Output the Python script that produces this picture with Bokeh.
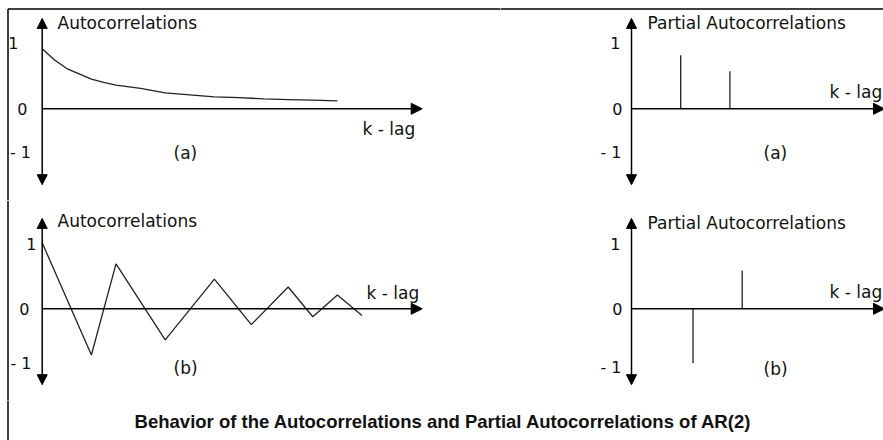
from bokeh.plotting import figure
from bokeh.layouts import column, row
from bokeh.models import Arrow, NormalHead, Range1d
from bokeh.core.properties import value
from bokeh.embed import file_html
from bokeh.resources import INLINE

# ---------------- data ----------------
acf_a_lag = [0, 1, 2, 3, 4, 5, 6, 8, 10, 12, 14, 16, 18, 20, 22, 24]
acf_a_val = [0.91, 0.74, 0.61, 0.53, 0.45, 0.40, 0.36, 0.31, 0.24, 0.21, 0.18, 0.17, 0.15, 0.14, 0.13, 0.12]

acf_b_lag = [0, 4, 6, 10, 14, 17, 20, 22, 24, 26]
acf_b_val = [1.0, -0.70, 0.68, -0.47, 0.45, -0.24, 0.33, -0.12, 0.21, -0.10]

pacf_a_lag = [4, 8]
pacf_a_val = [0.81, 0.57]

pacf_b_lag = [5, 9]
pacf_b_val = [-0.82, 0.58]

tick_labels = ["1", "0", "- 1"]
acf_title = "Autocorrelations"
pacf_title = "Partial Autocorrelations"
x_title = "k - lag"
main_title = "Behavior of the Autocorrelations and Partial Autocorrelations of AR(2)"

# ---------------- layout / style ----------------
FONT = "DejaVu Sans"
TITLE_FONT = "Liberation Sans"
FS = "17px"
TICK_FS = "16px"
SX, SY = 12.3, 66.0          # pixels per lag unit, pixels per correlation unit
Y_TOP, Y_BOT = 1.37, -1.15   # extent of the vertical arrows
INK = "#111111"
FRAME_X, FRAME_Y = 7.5, 8.5  # page position of the left / top frame lines
SPLIT = 500                  # page x where the left and right panels meet


def panel(fx, fy, w, h, ox, oy):
    xr = Range1d((fx - ox) / SX, (fx + w - ox) / SX)
    yr = Range1d((oy - (fy + h)) / SY, (oy - fy) / SY)
    p = figure(width=w, height=h, x_range=xr, y_range=yr,
               output_backend="svg", toolbar_location=None, min_border=0,
               x_axis_location=None, y_axis_location=None,
               background_fill_color="white", border_fill_color="white")
    p.outline_line_color = None
    p.grid.visible = False

    def conv(px, py):
        return (px - ox) / SX, (oy - py) / SY
    return p, conv, (fx, fy, w, h)


def add_text(p, conv, px, py, s, align="left", size=FS):
    x, y = conv(px, py)
    p.text(x=[x], y=[y], text=[s], text_align=align, text_baseline="middle",
           text_font=value(FONT), text_font_size=value(size), text_color=INK)


def add_axes(p, conv, x_tip_px):
    x_end, _ = conv(x_tip_px, 0)
    p.add_layout(Arrow(start=NormalHead(size=10, fill_color="black", line_color="black"),
                       end=NormalHead(size=10, fill_color="black", line_color="black"),
                       x_start=0, y_start=Y_BOT, x_end=0, y_end=Y_TOP,
                       line_color="black", line_width=1.5))
    p.add_layout(Arrow(end=NormalHead(size=11, fill_color="black", line_color="black"),
                       x_start=0, y_start=0, x_end=x_end, y_end=0,
                       line_color="black", line_width=1.5))


def add_ticks(p, conv, pos, aligns):
    for lab, (px, py), al in zip(tick_labels, pos, aligns):
        add_text(p, conv, px, py, lab, align=al, size=TICK_FS)


def add_frame(p, conv, rect, left=False, top=False):
    fx, fy, w, h = rect
    if left:
        x0, y0 = conv(FRAME_X, max(fy, FRAME_Y))
        x1, y1 = conv(FRAME_X, fy + h + 2)
        p.segment(x0=[x0], y0=[y0], x1=[x1], y1=[y1], line_color="black", line_width=1.5)
    if top:
        x0, y0 = conv(max(fx - 2, FRAME_X), FRAME_Y)
        x1, y1 = conv(fx + w + 2, FRAME_Y)
        p.segment(x0=[x0], y0=[y0], x1=[x1], y1=[y1], line_color="black", line_width=1.5)


WL, WR = SPLIT, 883 - SPLIT

# top-left: ACF (a)
p1, c1, r1 = panel(0, 0, WL, 200, 41.7, 108.3)
add_frame(p1, c1, r1, left=True, top=True)
add_axes(p1, c1, 421.7)
p1.line(acf_a_lag, acf_a_val, line_color="#222222", line_width=1.3)
add_text(p1, c1, 57, 22, acf_title)
add_text(p1, c1, 362, 128, x_title)
add_text(p1, c1, 173, 152, "(a)")
add_ticks(p1, c1, [(18, 42), (27, 108), (9.5, 152)], ["right", "right", "left"])

# top-right: PACF (a)
p2, c2, r2 = panel(SPLIT, 0, WR, 200, 631, 108.3)
add_frame(p2, c2, r2, top=True)
add_axes(p2, c2, 884)
p2.segment(x0=pacf_a_lag, y0=[0] * len(pacf_a_lag), x1=pacf_a_lag, y1=pacf_a_val,
           line_color="#222222", line_width=1.3)
add_text(p2, c2, 647, 22, pacf_title)
add_text(p2, c2, 829, 91, x_title)
add_text(p2, c2, 763, 152, "(a)")
add_ticks(p2, c2, [(620, 42), (622, 108), (621, 152)], ["right", "right", "right"])

# bottom-left: ACF (b)
p3, c3, r3 = panel(0, 200, WL, 200, 41.7, 308.3)
add_frame(p3, c3, r3, left=True)
add_axes(p3, c3, 421.7)
p3.line(acf_b_lag, acf_b_val, line_color="#222222", line_width=1.3)
add_text(p3, c3, 57, 220, acf_title)
add_text(p3, c3, 366, 292, x_title)
add_text(p3, c3, 173, 367, "(b)")
add_ticks(p3, c3, [(36, 243), (29, 308), (10, 363)], ["right", "right", "left"])

# bottom-right: PACF (b)
p4, c4, r4 = panel(SPLIT, 200, WR, 200, 631, 308.3)
add_axes(p4, c4, 884)
p4.segment(x0=pacf_b_lag, y0=[0] * len(pacf_b_lag), x1=pacf_b_lag, y1=pacf_b_val,
           line_color="#222222", line_width=1.3)
add_text(p4, c4, 647, 222, pacf_title)
add_text(p4, c4, 829, 291, x_title)
add_text(p4, c4, 763, 368, "(b)")
add_ticks(p4, c4, [(620, 243), (622, 308), (621, 367)], ["right", "right", "right"])

# title strip (page coordinates)
pt = figure(width=883, height=40, x_range=Range1d(0, 883), y_range=Range1d(440, 400),
            output_backend="svg", toolbar_location=None, min_border=0,
            x_axis_location=None, y_axis_location=None,
            background_fill_color="white", border_fill_color="white")
pt.outline_line_color = None
pt.grid.visible = False
pt.segment(x0=[FRAME_X], y0=[398], x1=[FRAME_X], y1=[442], line_color="black", line_width=1.5)
pt.text(x=[443], y=[421], text=[main_title], text_align="center", text_baseline="middle",
        text_font=value(TITLE_FONT), text_font_size=value("18.5px"), text_font_style="bold",
        text_color=INK)

layout = column(row(p1, p2), row(p3, p4), pt)
open("out.html", "w").write(file_html(layout, INLINE))
